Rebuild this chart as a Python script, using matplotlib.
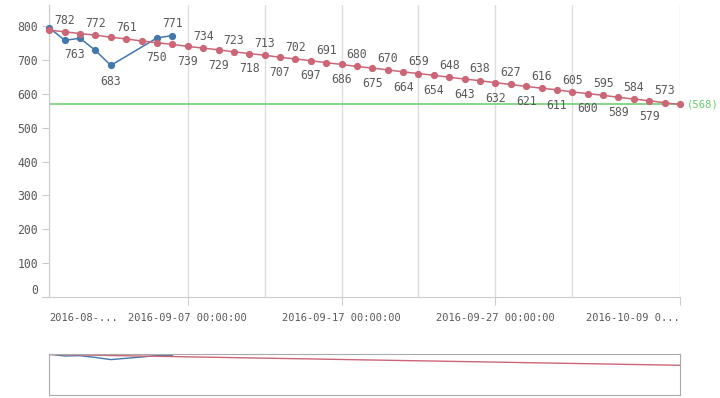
import numpy as np
import pandas as pd
import matplotlib
matplotlib.use("Agg")
import matplotlib.pyplot as plt
import matplotlib.dates as mdates

# data, one value per day
dates = pd.date_range("2016-08-29", "2016-10-09", freq="D")
red = [787, 782, 777, 772, 766, 761, 755, 750, 745, 739, 734, 729, 723, 718,
       713, 707, 702, 697, 691, 686, 680, 675, 670, 664, 659, 654, 648, 643,
       638, 632, 627, 621, 616, 611, 605, 600, 595, 589, 584, 579, 573, 568]
blue = [794, 757, 763, 727, 683, np.nan, np.nan, 764, 771]
ref_value = 568

red_lbl_up = [1, 3, 5] + list(range(10, 41, 2))
red_lbl_down = [7] + list(range(9, 40, 2))
blue_lbl = {2: "down", 4: "down", 8: "up"}

xticks = ["2016-08-29", "2016-09-07", "2016-09-17", "2016-09-27", "2016-10-09"]
xticklabels = ["2016-08-...", "2016-09-07 00:00:00", "2016-09-17 00:00:00",
               "2016-09-27 00:00:00", "2016-10-09 0..."]
minor_ticks = ["2016-09-12", "2016-09-22", "2016-10-02"]

c_red = "#cc6677"
c_blue = "#4477aa"
c_green = "#66cc66"
c_txt = "#595959"
c_grid = "#dddddd"
plt.rcParams['font.family'] = ['DejaVu Sans Mono']

fig = plt.figure(figsize=(7.2, 3.98), dpi=100)
ax = fig.add_axes([49.3/720, 1-297.3/398, (680-49.3)/720, (297.3-5)/398])

bdates = dates[:len(blue)]
s = pd.Series(blue, index=bdates).dropna()
ax.plot(s.index, s.values, color=c_blue, lw=1.1, zorder=3, clip_on=False)
ax.plot(s.index, s.values, 'o', color=c_blue, ms=4.2, zorder=4, clip_on=False)
ax.plot(dates, red, color=c_red, lw=1.1, zorder=3, clip_on=False)
ax.plot(dates, red, 'o', color=c_red, ms=4.2, zorder=4, clip_on=False)
ax.axhline(ref_value, color=c_green, lw=1.1, zorder=2)
ax.annotate("(%d)" % ref_value, (1, ref_value), xycoords=("axes fraction", "data"),
            xytext=(4.8, 0), textcoords="offset points", va="center", ha="left",
            color=c_green, fontsize=7.6, annotation_clip=False)

for i in red_lbl_up:
    ax.annotate(str(red[i]), (dates[i], red[i]), xytext=(0, 8.5),
                textcoords="offset points", ha="center", va="center",
                color=c_txt, fontsize=8.3)
for i in red_lbl_down:
    ax.annotate(str(red[i]), (dates[i], red[i]), xytext=(0, -11),
                textcoords="offset points", ha="center", va="center",
                color=c_txt, fontsize=8.3)
for i, pos in blue_lbl.items():
    off = 9 if pos == "up" else -11.5
    dx = -4 if i == 2 else 0
    ax.annotate(str(int(blue[i])), (dates[i], blue[i]), xytext=(dx, off),
                textcoords="offset points", ha="center", va="center",
                color=c_txt, fontsize=8.3)

ax.set_xlim(dates[0], dates[-1])
ax.set_ylim(0, 861)
ax.set_yticks(range(0, 801, 100))
ax.tick_params(axis="y", length=5, color="#cccccc", labelcolor=c_txt,
               labelsize=8.3, pad=3)

ax.set_xticks(pd.to_datetime(xticks))
ax.set_xticklabels(xticklabels)
ax.set_xticks(pd.to_datetime(minor_ticks), minor=True)
ax.tick_params(axis="x", which="major", length=6, color="#cccccc",
               labelcolor=c_txt, labelsize=7.5, pad=5)
ax.tick_params(axis="x", which="minor", length=0)
ax.grid(axis="x", which="both", color=c_grid, lw=1)
ax.set_axisbelow(True)
for sp in ["top", "right"]:
    ax.spines[sp].set_visible(False)
ax.spines["left"].set_color("#cccccc")
ax.spines["bottom"].set_color("#cccccc")
x0 = mdates.date2num(dates[0])
ax.spines["bottom"].set_bounds(x0 - 0.5, mdates.date2num(dates[-1]))

xl = ax.get_xticklabels()
xl[0].set_ha("left")
xl[-1].set_ha("right")
ax.xaxis.get_major_ticks()[0].tick1line.set_visible(False)
ax.get_yticklabels()[0].set_va("bottom")

# range navigator below
nav = fig.add_axes([49.3/720, 1-395/398, (680.3-49.3)/720, 41/398])
nav.plot(s.index, s.values, color=c_blue, lw=1)
nav.plot(dates, red, color=c_red, lw=1)
nav.set_xlim(dates[0], dates[-1])
nav.set_ylim(-35, 797)
nav.set_xticks([])
nav.set_yticks([])
for sp in nav.spines.values():
    sp.set_color("#aaaaaa")

fig.savefig("out.png", dpi=100)
